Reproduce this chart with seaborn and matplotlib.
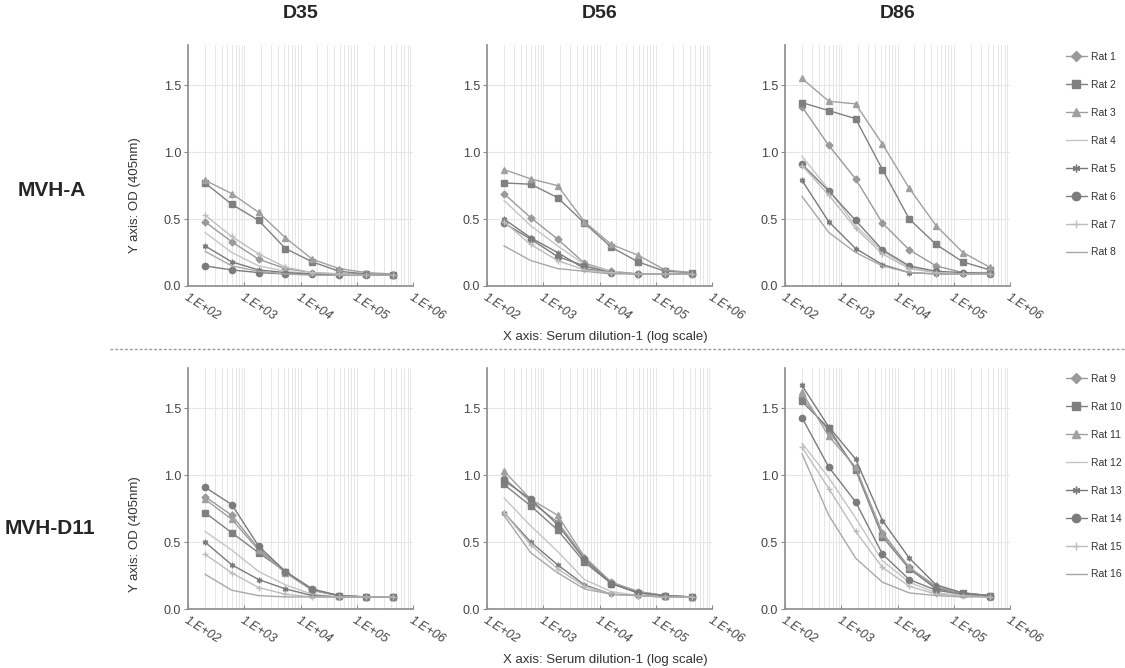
import numpy as np
import pandas as pd
import seaborn as sns
import matplotlib.pyplot as plt
import matplotlib.ticker as mticker
from matplotlib.lines import Line2D

# serum dilutions (3-fold series)
dilutions = [200, 600, 1800, 5400, 16200, 48600, 145800, 437400]

days = ['D35', 'D56', 'D86']
groups = ['MVH-A', 'MVH-D11']
rats_a = ['Rat 1', 'Rat 2', 'Rat 3', 'Rat 4', 'Rat 5', 'Rat 6', 'Rat 7', 'Rat 8']
rats_d11 = ['Rat 9', 'Rat 10', 'Rat 11', 'Rat 12', 'Rat 13', 'Rat 14', 'Rat 15', 'Rat 16']

# OD values, one row per rat
mvha_d35 = [
    [0.48, 0.33, 0.20, 0.13, 0.10, 0.09, 0.09, 0.08],
    [0.77, 0.61, 0.49, 0.28, 0.18, 0.11, 0.09, 0.08],
    [0.79, 0.69, 0.55, 0.36, 0.20, 0.13, 0.10, 0.09],
    [0.40, 0.25, 0.15, 0.11, 0.09, 0.08, 0.08, 0.08],
    [0.30, 0.18, 0.12, 0.10, 0.09, 0.08, 0.08, 0.08],
    [0.15, 0.12, 0.10, 0.09, 0.09, 0.08, 0.08, 0.08],
    [0.53, 0.37, 0.24, 0.14, 0.10, 0.09, 0.08, 0.08],
    [0.26, 0.15, 0.11, 0.09, 0.08, 0.08, 0.08, 0.08],
]
mvha_d56 = [
    [0.69, 0.51, 0.35, 0.17, 0.11, 0.09, 0.09, 0.09],
    [0.77, 0.76, 0.66, 0.47, 0.29, 0.18, 0.11, 0.10],
    [0.87, 0.80, 0.75, 0.48, 0.31, 0.23, 0.12, 0.10],
    [0.64, 0.45, 0.30, 0.16, 0.11, 0.09, 0.09, 0.09],
    [0.50, 0.36, 0.25, 0.13, 0.10, 0.09, 0.09, 0.09],
    [0.47, 0.35, 0.22, 0.15, 0.10, 0.09, 0.09, 0.09],
    [0.48, 0.31, 0.19, 0.12, 0.10, 0.09, 0.09, 0.09],
    [0.30, 0.19, 0.13, 0.11, 0.09, 0.09, 0.09, 0.09],
]
mvha_d86 = [
    [1.34, 1.05, 0.80, 0.47, 0.27, 0.15, 0.10, 0.10],
    [1.37, 1.31, 1.25, 0.87, 0.50, 0.31, 0.18, 0.12],
    [1.55, 1.38, 1.36, 1.06, 0.73, 0.45, 0.25, 0.14],
    [0.97, 0.72, 0.45, 0.26, 0.14, 0.10, 0.09, 0.09],
    [0.79, 0.48, 0.28, 0.16, 0.10, 0.09, 0.09, 0.09],
    [0.91, 0.71, 0.49, 0.27, 0.15, 0.11, 0.10, 0.09],
    [0.90, 0.68, 0.43, 0.24, 0.13, 0.10, 0.09, 0.09],
    [0.67, 0.40, 0.25, 0.15, 0.10, 0.09, 0.09, 0.09],
]
mvhd11_d35 = [
    [0.84, 0.70, 0.45, 0.28, 0.14, 0.10, 0.09, 0.09],
    [0.72, 0.57, 0.42, 0.28, 0.14, 0.10, 0.09, 0.09],
    [0.82, 0.67, 0.44, 0.27, 0.14, 0.10, 0.09, 0.09],
    [0.58, 0.44, 0.28, 0.18, 0.11, 0.09, 0.09, 0.09],
    [0.50, 0.33, 0.22, 0.15, 0.10, 0.09, 0.09, 0.09],
    [0.91, 0.78, 0.47, 0.28, 0.15, 0.10, 0.09, 0.09],
    [0.41, 0.27, 0.16, 0.11, 0.09, 0.09, 0.09, 0.09],
    [0.26, 0.14, 0.10, 0.09, 0.09, 0.09, 0.09, 0.09],
]
mvhd11_d56 = [
    [0.98, 0.80, 0.65, 0.38, 0.20, 0.13, 0.10, 0.09],
    [0.93, 0.77, 0.59, 0.35, 0.19, 0.12, 0.10, 0.09],
    [1.03, 0.82, 0.70, 0.39, 0.20, 0.13, 0.10, 0.09],
    [0.83, 0.62, 0.43, 0.22, 0.13, 0.10, 0.09, 0.09],
    [0.72, 0.50, 0.33, 0.18, 0.11, 0.10, 0.09, 0.09],
    [0.96, 0.82, 0.63, 0.37, 0.19, 0.12, 0.10, 0.09],
    [0.72, 0.48, 0.30, 0.17, 0.11, 0.10, 0.09, 0.09],
    [0.70, 0.42, 0.27, 0.15, 0.11, 0.10, 0.09, 0.09],
]
mvhd11_d86 = [
    [1.58, 1.33, 1.05, 0.57, 0.31, 0.16, 0.11, 0.10],
    [1.55, 1.35, 1.04, 0.54, 0.30, 0.15, 0.12, 0.10],
    [1.62, 1.29, 1.06, 0.56, 0.31, 0.17, 0.11, 0.10],
    [1.24, 0.98, 0.68, 0.36, 0.20, 0.12, 0.10, 0.09],
    [1.67, 1.36, 1.12, 0.66, 0.38, 0.18, 0.12, 0.10],
    [1.43, 1.06, 0.80, 0.41, 0.22, 0.14, 0.11, 0.09],
    [1.21, 0.90, 0.58, 0.31, 0.17, 0.11, 0.10, 0.09],
    [1.16, 0.70, 0.38, 0.20, 0.12, 0.10, 0.09, 0.09],
]

panels = [[mvha_d35, mvha_d56, mvha_d86], [mvhd11_d35, mvhd11_d56, mvhd11_d86]]
rat_names = [rats_a, rats_d11]

# marker / grey per rat position (Excel-like defaults in greyscale)
markers = ['D', 's', '^', None, (6, 2, 0), 'o', '+', None]
greys = ['#9a9a9a', '#808080', '#a0a0a0', '#c4c4c4', '#7a7a7a', '#7c7c7c', '#bdbdbd', '#a8a8a8']
msizes = [3.5, 4.5, 4.5, 0, 4, 4.5, 4, 0]

sns.set_style('white')
plt.rcParams['font.family'] = ['Liberation Sans', 'DejaVu Sans']

W, H = 1125, 668
fig = plt.figure(figsize=(W / 100, H / 100), dpi=100)

col_left = [188, 487, 785]
row_top = [45, 368]
legend_top = [52, 374]
ax_w, ax_h = 225, 241

for r in range(2):
    for c in range(3):
        ax = fig.add_axes([col_left[c] / W, 1 - (row_top[r] + ax_h) / H, ax_w / W, ax_h / H])
        data = panels[r][c]
        for i, vals in enumerate(data):
            df = pd.DataFrame({'dilution': dilutions, 'od': vals})
            sns.lineplot(data=df, x='dilution', y='od', ax=ax, color=greys[i],
                         marker=markers[i], markersize=msizes[i], linewidth=1.0,
                         markeredgecolor=greys[i], markeredgewidth=1.0, zorder=3)
        ax.set_xscale('log')
        ax.set_xlim(100, 1e6)
        ax.set_ylim(0, 1.8)
        ax.set_xlabel('')
        ax.set_ylabel('')
        ax.set_yticks([0, 0.5, 1.0, 1.5])
        ax.yaxis.set_major_formatter(mticker.FormatStrFormatter('%.1f'))
        ax.set_xticks([1e2, 1e3, 1e4, 1e5, 1e6])
        ax.xaxis.set_major_formatter(mticker.FuncFormatter(
            lambda v, p: '1.E+%02d' % int(round(np.log10(v)))))
        ax.xaxis.set_minor_locator(mticker.LogLocator(base=10, subs=np.arange(2, 10)))
        ax.xaxis.set_minor_formatter(mticker.NullFormatter())
        ax.grid(True, which='both', axis='x', color='#e6e6e6', linewidth=0.7)
        ax.grid(True, which='major', axis='y', color='#e6e6e6', linewidth=0.8)
        ax.set_axisbelow(True)
        for s in ['top', 'right']:
            ax.spines[s].set_visible(False)
        for s in ['left', 'bottom']:
            ax.spines[s].set_color('#8c8c8c')
            ax.spines[s].set_linewidth(1.2)
        ax.tick_params(axis='y', which='major', left=True, length=3, color='#8c8c8c',
                       labelsize=9, labelcolor='#444444', pad=2)
        ax.tick_params(axis='x', which='major', bottom=True, direction='in', length=3,
                       color='#8c8c8c', labelsize=9, labelcolor='#444444', pad=4)
        ax.tick_params(axis='x', which='minor', length=0)
        for lab in ax.get_xticklabels():
            lab.set_rotation(-32)
            lab.set_ha('left')
            lab.set_va('top')
            lab.set_rotation_mode('anchor')
            lab.set_style('italic')

    # legend for the row
    handles = [Line2D([], [], color=greys[i], marker=markers[i], markersize=msizes[i] + 1.5,
                      linewidth=1.0, markeredgecolor=greys[i]) for i in range(8)]
    fig.legend(handles, rat_names[r], loc='upper left',
               bbox_to_anchor=(1066 / W, 1 - legend_top[r] / H),
               frameon=False, fontsize=7.5, handlelength=2.0, handletextpad=0.4,
               labelspacing=1.72, borderaxespad=0, borderpad=0, labelcolor='#333333')

# column titles
for c, d in enumerate(days):
    fig.text((col_left[c] + ax_w / 2) / W, 1 - 14 / H, d, ha='center', va='center',
             fontsize=14, fontweight='bold')

# row labels
fig.text(52 / W, 1 - 190 / H, groups[0], ha='center', va='center', fontsize=15, fontweight='bold')
fig.text(50 / W, 1 - 528 / H, groups[1], ha='center', va='center', fontsize=15, fontweight='bold')

# axis labels
for yc in [195, 534]:
    fig.text(135 / W, 1 - yc / H, 'Y axis: OD (405nm)', rotation=90, ha='center', va='center',
             fontsize=9.5, color='#333333')
for yc in [337, 660]:
    fig.text(605 / W, 1 - yc / H, 'X axis: Serum dilution-1 (log scale)', ha='center', va='center',
             fontsize=9.5, color='#333333')

# dotted separator between the groups
fig.add_artist(Line2D([110 / W, 1.0], [1 - 349 / H, 1 - 349 / H], color='#9a9a9a',
                      linewidth=1.0, linestyle=(0, (2, 1.5))))

fig.savefig('out.png', dpi=100)
